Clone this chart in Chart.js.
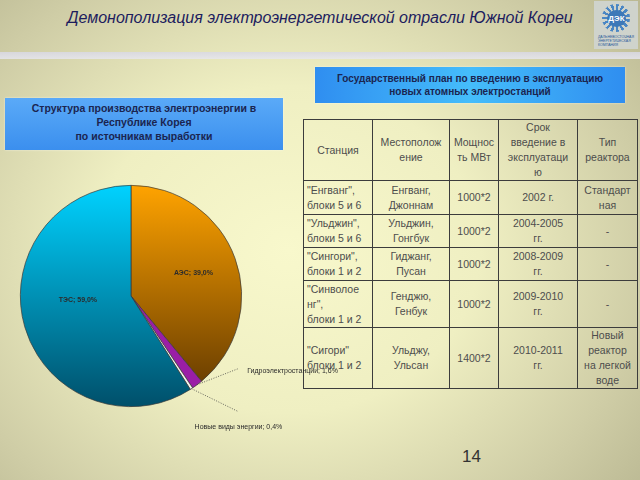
<!DOCTYPE html>
<html lang="ru">
<head>
    <meta charset="UTF-8">
    <title>Демонополизация электроэнергетической отрасли Южной Кореи</title>
    <style>
        body { margin: 0; }
        .slide {
            position: relative; width: 640px; height: 480px; overflow: hidden;
            font-family: "Liberation Sans", Arial, sans-serif;
            background: radial-gradient(ellipse 75% 85% at 45% 52%, #f8f8cc 0%, #efefc2 40%, #cfcda6 75%, #b6b48f 100%);
        }
        .title {
            position: absolute; left: 0; top: 9px; width: 640px; text-align: center;
            font-style: italic; font-size: 16px; color: #1d1d5e;
        }
        .band {
            position: absolute; left: 0; top: 52px; width: 640px; height: 7px;
            background: linear-gradient(to bottom, #d9d9e6, #e6e6ef); opacity: 0.85;
        }
        .logo {
            position: absolute; left: 594px; top: 1px; width: 44px; height: 48px;
            background: #cfd3cc;
        }
        .logo .sun {
            position: absolute; left: 8px; top: 3px; width: 28px; height: 28px; border-radius: 50%;
            background: repeating-conic-gradient(#4a86c4 0deg 12deg, #cfd3cc 12deg 24deg);
        }
        .logo .core {
            position: absolute; left: 13px; top: 9px; width: 19px; height: 17px; border-radius: 50%;
            background: #3d78b8; color: #fff; font: bold 8px "Liberation Sans", Arial, sans-serif;
            text-align: center; line-height: 17px;
        }
        .logo .cap {
            position: absolute; left: 4px; top: 34px; width: 38px;
            font: 3.5px "Liberation Sans", Arial, sans-serif; color: #2a5a9a; line-height: 4px;
        }
        .box {
            position: absolute; text-align: center; font-weight: bold; color: #1b2550;
            box-shadow: 0 0 2px rgba(255,255,255,0.6);
        }
        .box.left {
            left: 5px; top: 98px; width: 278px; height: 52px; font-size: 10.5px; line-height: 14px;
            padding-top: 3px; box-sizing: border-box;
            background: linear-gradient(to bottom, #5aaaf8, #3b8fee);
        }
        .box.right {
            left: 315px; top: 67px; width: 310px; height: 36px; font-size: 10px; line-height: 13px;
            padding-top: 5px; box-sizing: border-box;
            background: linear-gradient(to right, #2f8ef0, #45bdfb 50%, #2f8ef0);
        }
        #plan {
            position: absolute; left: 303px; top: 119px; width: 334px;
            border-collapse: collapse; table-layout: fixed;
            font-size: 10.5px; line-height: 15px; color: #4d4d4d;
        }
        #plan td { border: 1px solid #3c3c3c; text-align: center; vertical-align: middle; padding: 0 2px; }
        #plan td.name { text-align: left; padding-left: 3px; }
        #pie { position: absolute; left: 0; top: 170px; pointer-events: none; z-index: 2; }
        .num { position: absolute; left: 462px; top: 447px; font-size: 17px; color: #333; }
    </style>
</head>
<body>
<div class="slide">
    <div class="title">Демонополизация электроэнергетической отрасли Южной Кореи</div>
    <div class="band"></div>
    <div class="logo">
        <div class="sun"></div>
        <div class="core">ДЭК</div>
        <div class="cap">ДАЛЬНЕВОСТОЧНАЯ ЭНЕРГЕТИЧЕСКАЯ КОМПАНИЯ</div>
    </div>
    <div class="box left">Структура производства электроэнергии в<br>Республике Корея<br>по источникам выработки</div>
    <div class="box right">Государственный план по введению в эксплуатацию<br>новых атомных электростанций</div>
    <table id="plan"></table>
    <canvas id="pie" width="380" height="280"></canvas>
    <div class="num">14</div>
</div>

<script src="https://cdn.jsdelivr.net/npm/chart.js"></script>
<script>
    // pie data
    const sources = ['АЭС', 'Гидроэлектростанции', 'Новые виды энергии', 'ТЭС'];
    const shares = [39.0, 1.6, 0.4, 59.0];

    // table data
    const colWidths = [69, 77, 49, 79, 60];
    const rowHeights = [58, 34, 33, 33, 47, 54];
    const tableHead = ['Станция', 'Местополож<br>ение', 'Мощнос<br>ть МВт', 'Срок<br>введение в<br>эксплуатаци<br>ю', 'Тип<br>реактора'];
    const stations = ['"Енгванг",<br>блоки 5 и 6', '"Ульджин",<br>блоки 5 и 6', '"Сингори",<br>блоки 1 и 2', '"Синволое<br>нг",<br>блоки 1 и 2', '"Сигори"<br>блоки 1 и 2'];
    const places = ['Енгванг,<br>Джоннам', 'Ульджин,<br>Гонгбук', 'Гиджанг,<br>Пусан', 'Генджю,<br>Генбук', 'Ульджу,<br>Ульсан'];
    const power = ['1000*2', '1000*2', '1000*2', '1000*2', '1400*2'];
    const terms = ['2002 г.', '2004-2005<br>гг.', '2008-2009<br>гг.', '2009-2010<br>гг.', '2010-2011<br>гг.'];
    const reactors = ['Стандарт<br>ная', '-', '-', '-', 'Новый<br>реактор<br>на легкой<br>воде'];

    // build table
    const table = document.getElementById('plan');
    let html = '<colgroup>' + colWidths.map(w => `<col style="width:${w}px">`).join('') + '</colgroup>';
    html += `<tr style="height:${rowHeights[0]}px">` + tableHead.map(h => `<td>${h}</td>`).join('') + '</tr>';
    stations.forEach((s, i) => {
        html += `<tr style="height:${rowHeights[i + 1]}px">
            <td class="name">${s}</td><td>${places[i]}</td><td>${power[i]}</td><td>${terms[i]}</td><td>${reactors[i]}</td></tr>`;
    });
    table.innerHTML = html;

    // slice colours: two stops = vertical gradient
    const fills = [['#ffa300', '#5a3300'], ['#9a1ea6'], ['#f4f4ee'], ['#00d2ff', '#004f6a']];
    function sliceFill(c) {
        const area = c.chart.chartArea;
        const stops = fills[c.dataIndex];
        if (!area || stops.length === 1) return stops[0];
        const g = c.chart.ctx.createLinearGradient(0, area.top, 0, area.bottom);
        g.addColorStop(0, stops[0]);
        g.addColorStop(1, stops[1]);
        return g;
    }

    // labels: inside ones use a radius factor (+ small nudge), outside ones a leader offset
    const insideAt = [{ r: 0.6, dy: 0 }, null, null, { r: 0.5, dy: -11 }];
    const leader = [null, { dx: 41, dy: -16, tx: 9, ty: 2, align: 'left' }, { dx: 47, dy: 23, tx: 0, ty: 15, align: 'center' }, null];

    const sliceLabels = {
        id: 'sliceLabels',
        afterDatasetsDraw(chart) {
            const ctx = chart.ctx;
            ctx.save();
            ctx.textBaseline = 'middle';
            chart.getDatasetMeta(0).data.forEach((arc, i) => {
                const p = arc.getProps(['x', 'y', 'startAngle', 'endAngle', 'outerRadius'], true);
                const mid = (p.startAngle + p.endAngle) / 2;
                const text = sources[i] + '; ' + shares[i].toFixed(1).replace('.', ',') + '%';
                ctx.fillStyle = '#2b2b2b';
                if (insideAt[i]) {
                    const r = p.outerRadius * insideAt[i].r;
                    ctx.font = 'bold 7px "Liberation Sans", Arial, sans-serif';
                    ctx.textAlign = 'center';
                    ctx.fillText(text, p.x + Math.cos(mid) * r, p.y + Math.sin(mid) * r + insideAt[i].dy);
                } else {
                    const l = leader[i];
                    const x0 = p.x + Math.cos(mid) * p.outerRadius;
                    const y0 = p.y + Math.sin(mid) * p.outerRadius;
                    ctx.beginPath();
                    ctx.setLineDash([1, 1.5]);
                    ctx.strokeStyle = '#444';
                    ctx.lineWidth = 0.8;
                    ctx.moveTo(x0, y0);
                    ctx.lineTo(x0 + l.dx, y0 + l.dy);
                    ctx.stroke();
                    ctx.font = '7px "Liberation Sans", Arial, sans-serif';
                    ctx.textAlign = l.align;
                    ctx.fillText(text, x0 + l.dx + l.tx, y0 + l.dy + l.ty);
                }
            });
            ctx.restore();
        }
    };

    new Chart(document.getElementById('pie'), {
        type: 'pie',
        data: {
            labels: sources,
            datasets: [{
                data: shares,
                backgroundColor: sliceFill,
                borderColor: '#3a3a3a',
                borderWidth: 0.7
            }]
        },
        options: {
            responsive: false,
            animation: false,
            layout: { padding: { left: 20, top: 15, right: 138, bottom: 43 } },
            plugins: { legend: { display: false }, tooltip: { enabled: false } }
        },
        plugins: [sliceLabels]
    });
</script>
</body>
</html>
